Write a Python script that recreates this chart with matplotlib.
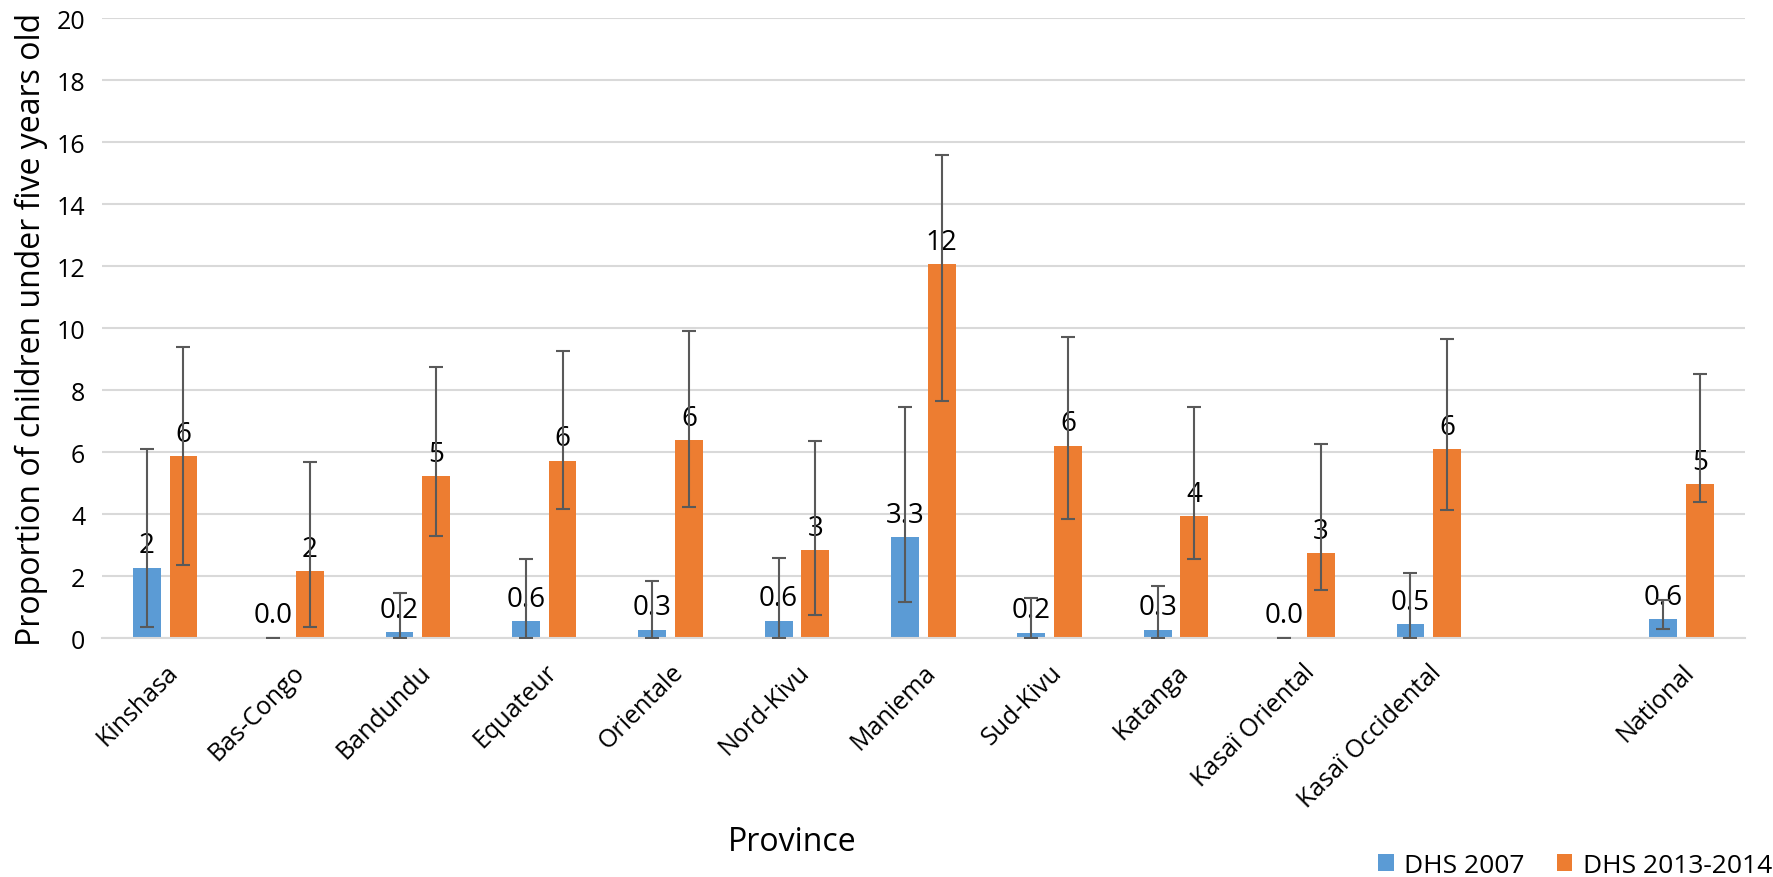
#!/usr/bin/env python3
import numpy as np
import matplotlib
matplotlib.use('Agg')
import matplotlib.pyplot as plt

provinces = ['Kinshasa', 'Bas-Congo', 'Bandundu', 'Equateur', 'Orientale', 'Nord-Kivu',
             'Maniema', 'Sud-Kivu', 'Katanga', 'Kasaï Oriental', 'Kasaï Occidental', 'National']

# DHS 2007
dhs07 = [2.28, 0.02, 0.20, 0.54, 0.27, 0.56, 3.27, 0.18, 0.27, 0.02, 0.46, 0.62]
dhs07_lo = [0.35, 0.0, 0.0, 0.0, 0.0, 0.0, 1.17, 0.0, 0.0, 0.0, 0.0, 0.31]
dhs07_hi = [6.12, 0.02, 1.46, 2.55, 1.83, 2.60, 7.47, 1.31, 1.68, 0.02, 2.09, 1.23]
dhs07_lbl = ['2', '0.0', '0.2', '0.6', '0.3', '0.6', '3.3', '0.2', '0.3', '0.0', '0.5', '0.6']

# DHS 2013-2014
dhs13 = [5.87, 2.17, 5.22, 5.73, 6.38, 2.83, 12.06, 6.21, 3.94, 2.74, 6.10, 4.97]
dhs13_lo = [2.37, 0.35, 3.29, 4.16, 4.24, 0.75, 7.64, 3.85, 2.55, 1.56, 4.15, 4.40]
dhs13_hi = [9.39, 5.70, 8.74, 9.27, 9.92, 6.36, 15.6, 9.73, 7.45, 6.27, 9.65, 8.52]
dhs13_lbl = ['6', '2', '5', '6', '6', '3', '12', '6', '4', '3', '6', '5']

blue = '#5B9BD5'
orange = '#ED7D31'
font = 'Open Sans'

fig = plt.figure(figsize=(17.73, 8.78), dpi=100)
ax = fig.add_axes([0.0575, 0.272, 0.9265, 0.706])

# gap between Kasaï Occidental and National
x = np.array(list(range(11)) + [12], dtype=float)
w = 0.22
off = 0.145

series = [(dhs07, dhs07_lo, dhs07_hi, dhs07_lbl, blue, 'DHS 2007', -off),
          (dhs13, dhs13_lo, dhs13_hi, dhs13_lbl, orange, 'DHS 2013-2014', off)]
for vals, lo, hi, lbl, col, name, dx in series:
    vals = np.array(vals)
    yerr = [vals - np.array(lo), np.array(hi) - vals]
    ax.bar(x + dx, vals, w, color=col, label=name, zorder=2)
    ax.errorbar(x + dx, vals, yerr=yerr, fmt='none', ecolor='#595959',
                elinewidth=1.5, capsize=5, capthick=1.5, zorder=4)
    for xi, v, t in zip(x + dx, vals, lbl):
        ax.annotate(t, (xi, v), xytext=(0, 6), textcoords='offset points',
                    ha='center', va='bottom', fontsize=20, family=font, zorder=3)

ax.set_xlim(-0.5, 12.5)
ax.set_ylim(0, 20)
ax.set_yticks(np.arange(0, 21, 2))
ax.yaxis.grid(True, color='#D9D9D9', lw=1.5, zorder=0)
ax.set_axisbelow(True)
for s in ['top', 'right', 'left']:
    ax.spines[s].set_visible(False)
ax.spines['bottom'].set_color('#D9D9D9')
ax.spines['bottom'].set_linewidth(1.5)
ax.tick_params(length=0, labelsize=18)
ax.tick_params(axis='y', pad=12)
for t in ax.get_yticklabels():
    t.set_family(font)

ax.set_xticks(x)
ax.set_xticklabels(provinces, rotation=45, ha='right', rotation_mode='anchor',
                   fontsize=18, family=font)
ax.tick_params(axis='x', pad=15)

ax.set_ylabel('Proportion of children under five years old', fontsize=23, family=font, labelpad=6)
fig.text(0.447, 0.04, 'Province', fontsize=23, family=font, ha='center', va='center')

fig.legend(loc='center right', bbox_to_anchor=(1.013, 0.013), ncol=2, frameon=False,
           prop={'family': font, 'size': 19},
           handlelength=0.6, handleheight=0.6, handletextpad=0.4, columnspacing=1.2)

fig.savefig('out.png', dpi=100)
